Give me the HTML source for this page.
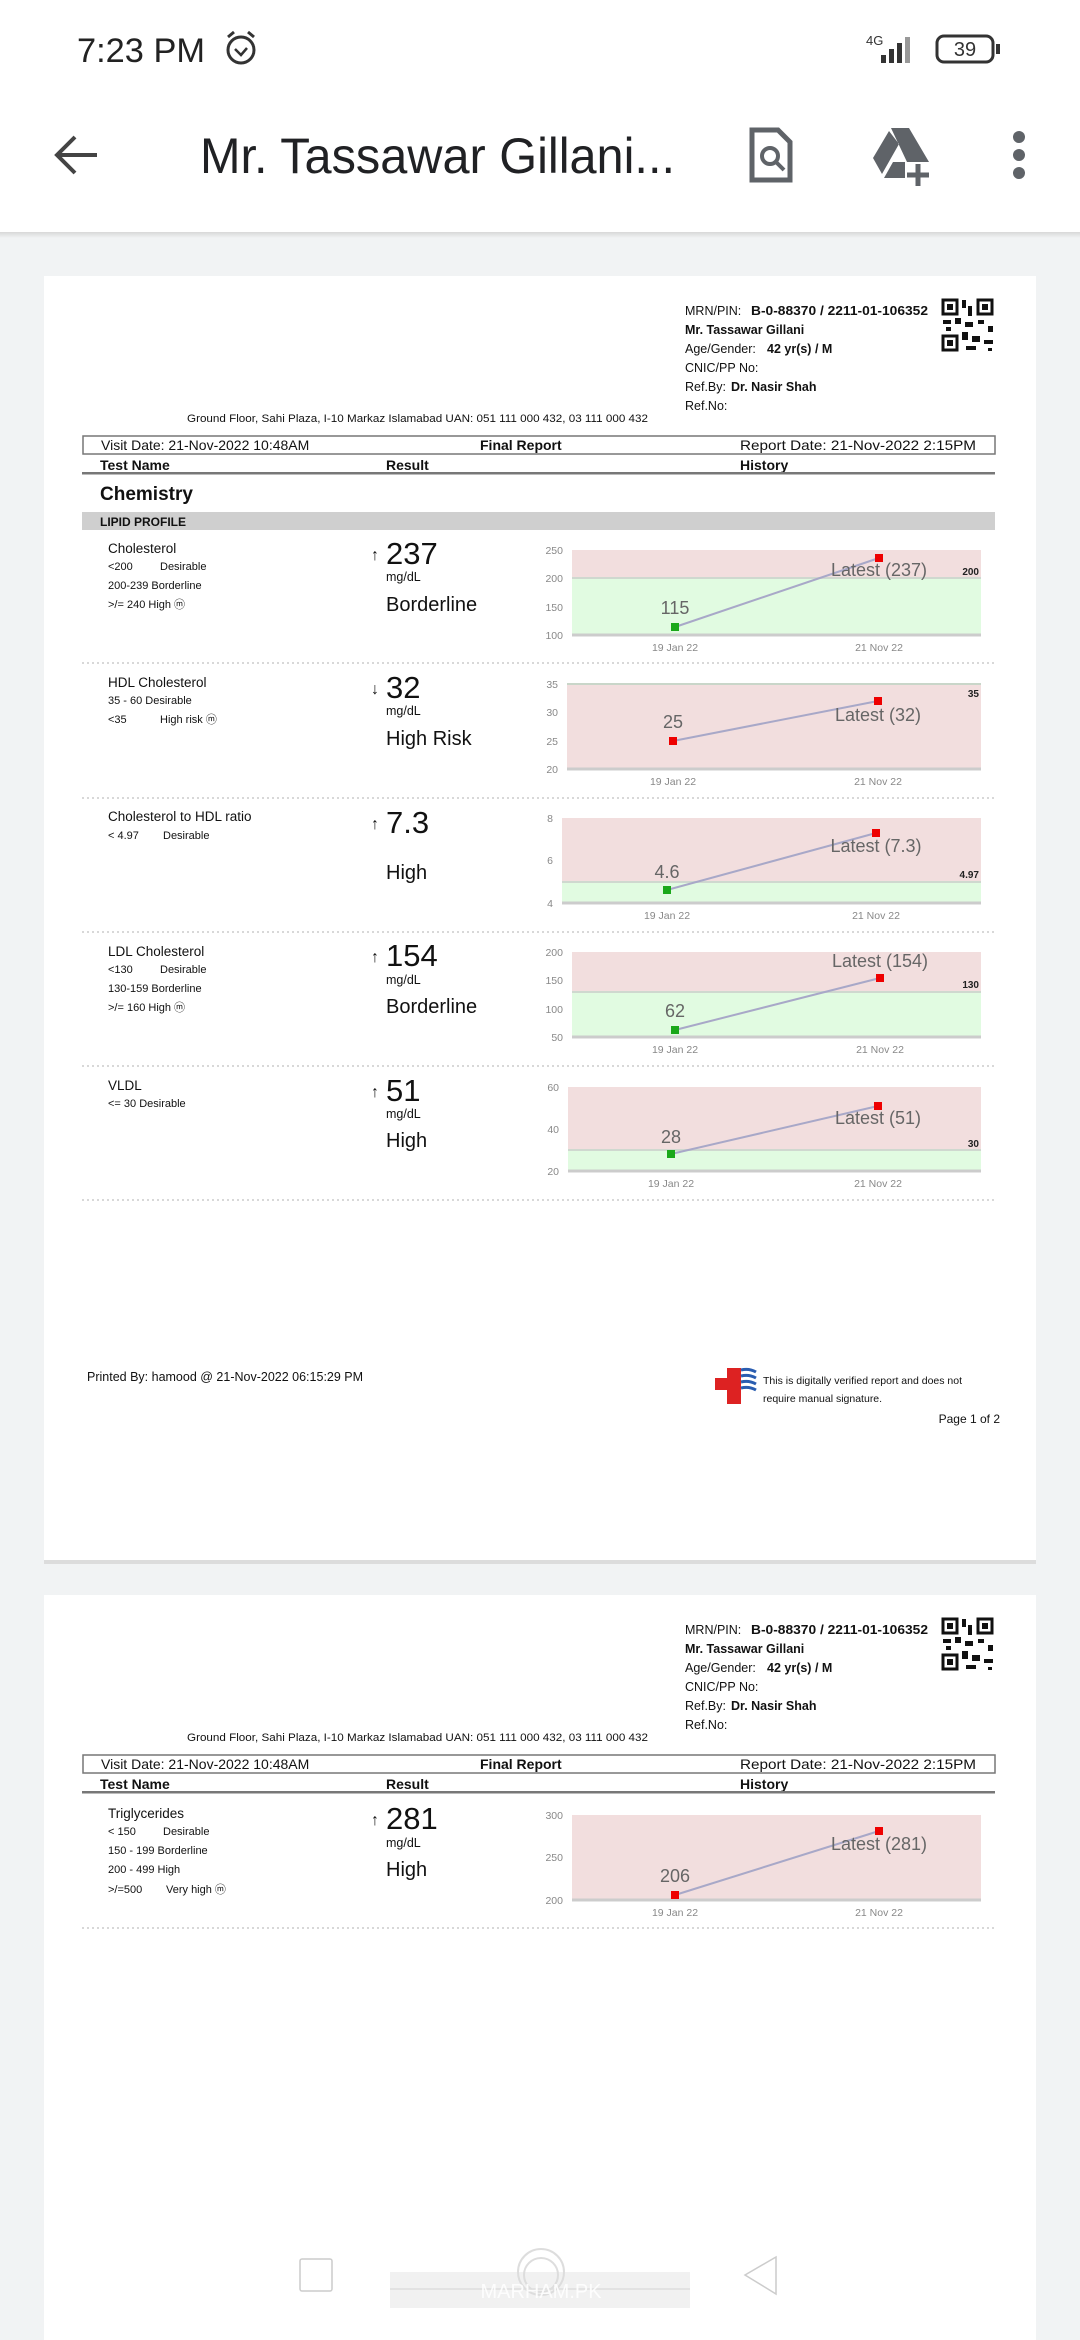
<!DOCTYPE html>
<html><head><meta charset="utf-8"><style>
html,body{margin:0;padding:0;background:#fff;}
svg{display:block;font-family:"Liberation Sans",sans-serif;}
</style></head><body>
<svg width="1080" height="2340" viewBox="0 0 1080 2340" xmlns="http://www.w3.org/2000/svg">
<defs>
<linearGradient id="sh" x1="0" y1="0" x2="0" y2="1"><stop offset="0" stop-color="#d8d8d8"/><stop offset="1" stop-color="#f1f3f4"/></linearGradient>
</defs>
<rect width="1080" height="2340" fill="#f1f3f4"/>
<rect width="1080" height="232" fill="#fff"/>
<rect y="232" width="1080" height="6" fill="url(#sh)"/>
<text x="77" y="62" font-size="34" fill="#222" textLength="128" lengthAdjust="spacingAndGlyphs">7:23 PM</text>
<circle cx="241" cy="50" r="13" fill="none" stroke="#333" stroke-width="3"/>
<path d="M235 49 l6 6 l6 -7" fill="none" stroke="#333" stroke-width="2.5"/>
<path d="M228 37 l6 -5 M254 37 l-6 -5" stroke="#333" stroke-width="3"/>
<text x="866" y="45" font-size="13" fill="#333">4G</text>
<rect x="881" y="55" width="5" height="8" fill="#333"/><rect x="889" y="49" width="5" height="14" fill="#333"/><rect x="897" y="43" width="5" height="20" fill="#333"/><rect x="905" y="37" width="5" height="26" fill="#999"/>
<rect x="937" y="36" width="56" height="26" rx="7" fill="none" stroke="#333" stroke-width="3"/>
<rect x="996" y="44" width="4" height="10" fill="#333"/>
<text x="965" y="56" font-size="20" fill="#333" text-anchor="middle">39</text>
<path d="M97 155 H58 M75 137 L57 155 L75 173" fill="none" stroke="#444" stroke-width="4"/>
<text x="200" y="173" font-size="50" fill="#202124" textLength="475" lengthAdjust="spacingAndGlyphs">Mr. Tassawar Gillani...</text>
<path d="M752 130 h26 l12 12 v38 h-38 z" fill="none" stroke="#5f6368" stroke-width="5"/>
<circle cx="770" cy="156" r="8" fill="none" stroke="#5f6368" stroke-width="4"/><path d="M776 162 l8 8" stroke="#5f6368" stroke-width="4"/>
<path d="M891 128 h18 l20 34 h-22 z M889 131 l-16 27 l9 16 l17 -30 z M884 178 l9 -16 h12 v16 z" fill="#5f6368"/>
<path d="M918 164 v22 M907 175 h22" stroke="#5f6368" stroke-width="5"/>
<circle cx="1019" cy="137" r="6" fill="#5f6368"/><circle cx="1019" cy="155" r="6" fill="#5f6368"/><circle cx="1019" cy="173" r="6" fill="#5f6368"/>

<!-- page 1 -->
<rect x="44" y="276" width="992" height="1284" fill="#fff"/>
<rect x="44" y="1560" width="992" height="4" fill="#dcdcdc"/>
<g font-size="12.5" fill="#111">
<text x="685" y="315">MRN/PIN:</text><text x="751" y="315" font-weight="bold" textLength="177" lengthAdjust="spacingAndGlyphs">B-0-88370 / 2211-01-106352</text>
<text x="685" y="334" font-weight="bold">Mr. Tassawar Gillani</text>
<text x="685" y="353">Age/Gender:</text><text x="767" y="353" font-weight="bold">42 yr(s) / M</text>
<text x="685" y="372">CNIC/PP No:</text>
<text x="685" y="391">Ref.By:</text><text x="731" y="391" font-weight="bold">Dr. Nasir Shah</text>
<text x="685" y="410">Ref.No:</text>
<text x="187" y="422" font-size="11" textLength="461" lengthAdjust="spacingAndGlyphs">Ground Floor, Sahi Plaza, I-10 Markaz Islamabad  UAN: 051 111 000 432, 03 111 000 432</text>
</g>
<g fill="#111">
<path d="M943 300h14v14h-14z M978 300h14v14h-14z M943 336h14v14h-14z" fill="none" stroke="#111" stroke-width="3"/>
<rect x="947" y="304" width="6" height="6"/><rect x="982" y="304" width="6" height="6"/><rect x="947" y="340" width="6" height="6"/>
<rect x="962" y="300" width="4" height="8"/><rect x="968" y="306" width="4" height="10"/><rect x="943" y="320" width="8" height="4"/><rect x="955" y="318" width="6" height="6"/><rect x="965" y="322" width="8" height="5"/><rect x="978" y="320" width="6" height="4"/><rect x="988" y="326" width="5" height="6"/><rect x="962" y="332" width="6" height="8"/><rect x="972" y="336" width="8" height="6"/><rect x="984" y="340" width="9" height="4"/><rect x="966" y="346" width="10" height="4"/><rect x="988" y="348" width="4" height="3"/><rect x="946" y="327" width="5" height="4"/>
</g>
<rect x="83" y="436" width="912" height="18" fill="none" stroke="#777" stroke-width="1.5"/>
<g font-size="14" fill="#111">
<text x="101" y="450">Visit Date: 21-Nov-2022 10:48AM</text>
<text x="480" y="450" font-weight="bold">Final Report</text>
<text x="740" y="450" textLength="236" lengthAdjust="spacingAndGlyphs">Report Date: 21-Nov-2022 2:15PM</text>
<text x="100" y="470" font-weight="bold">Test Name</text>
<text x="386" y="470" font-weight="bold">Result</text>
<text x="740" y="470" font-weight="bold">History</text>
</g>
<rect x="82" y="472" width="913" height="2.5" fill="#777"/>
<text x="100" y="500" font-size="19" font-weight="bold" fill="#111">Chemistry</text>
<rect x="82" y="512" width="913" height="18" fill="#cfcfcf"/>
<text x="100" y="526" font-size="12" font-weight="bold" fill="#111">LIPID PROFILE</text>

<g stroke="#ccc" stroke-width="1.5" stroke-dasharray="2 3">
<line x1="82" y1="663" x2="995" y2="663"/><line x1="82" y1="798" x2="995" y2="798"/><line x1="82" y1="932" x2="995" y2="932"/><line x1="82" y1="1066" x2="995" y2="1066"/><line x1="82" y1="1200" x2="995" y2="1200"/>
</g>

<g fill="#111">
<text x="108" y="553" font-size="13.5">Cholesterol</text>
<text x="108" y="570" font-size="11">&lt;200</text><text x="160" y="570" font-size="11">Desirable</text>
<text x="108" y="589" font-size="11">200-239  Borderline</text>
<text x="108" y="608" font-size="11">&gt;/= 240  High ⓜ</text>
<text x="371" y="560" font-size="16" font-weight="bold">↑</text><text x="386" y="564" font-size="31">237</text>
<text x="386" y="581" font-size="12.5">mg/dL</text>
<text x="386" y="611" font-size="20">Borderline</text>

<text x="108" y="687" font-size="13.5">HDL Cholesterol</text>
<text x="108" y="704" font-size="11">35 - 60  Desirable</text>
<text x="108" y="723" font-size="11">&lt;35</text><text x="160" y="723" font-size="11">High risk ⓜ</text>
<text x="371" y="694" font-size="16" font-weight="bold">↓</text><text x="386" y="698" font-size="31">32</text>
<text x="386" y="715" font-size="12.5">mg/dL</text>
<text x="386" y="745" font-size="20">High Risk</text>

<text x="108" y="821" font-size="13.5">Cholesterol to HDL ratio</text>
<text x="108" y="839" font-size="11">&lt; 4.97</text><text x="163" y="839" font-size="11">Desirable</text>
<text x="371" y="829" font-size="16" font-weight="bold">↑</text><text x="386" y="833" font-size="31">7.3</text>
<text x="386" y="879" font-size="20">High</text>

<text x="108" y="956" font-size="13.5">LDL Cholesterol</text>
<text x="108" y="973" font-size="11">&lt;130</text><text x="160" y="973" font-size="11">Desirable</text>
<text x="108" y="992" font-size="11">130-159  Borderline</text>
<text x="108" y="1011" font-size="11">&gt;/= 160  High ⓜ</text>
<text x="371" y="962" font-size="16" font-weight="bold">↑</text><text x="386" y="966" font-size="31">154</text>
<text x="386" y="984" font-size="12.5">mg/dL</text>
<text x="386" y="1013" font-size="20">Borderline</text>

<text x="108" y="1090" font-size="13.5">VLDL</text>
<text x="108" y="1107" font-size="11">&lt;= 30  Desirable</text>
<text x="371" y="1097" font-size="16" font-weight="bold">↑</text><text x="386" y="1101" font-size="31">51</text>
<text x="386" y="1118" font-size="12.5">mg/dL</text>
<text x="386" y="1147" font-size="20">High</text>
</g>

<g font-size="10.5" fill="#888">
<rect x="572" y="550" width="409" height="28" fill="#f2dede"/><rect x="572" y="578" width="409" height="57" fill="#e1fbe1"/>
<line x1="572" y1="578" x2="981" y2="578" stroke="#cfd8cf" stroke-width="2"/>
<line x1="572" y1="635" x2="981" y2="635" stroke="#ccc" stroke-width="3"/>
<text x="563" y="554" text-anchor="end">250</text><text x="563" y="582" text-anchor="end">200</text><text x="563" y="611" text-anchor="end">150</text><text x="563" y="639" text-anchor="end">100</text>
<text x="675" y="651" text-anchor="middle">19 Jan 22</text><text x="879" y="651" text-anchor="middle">21 Nov 22</text>
<line x1="675" y1="627" x2="879" y2="558" stroke="#a8a8c8" stroke-width="2"/>
<rect x="671" y="623" width="8" height="8" fill="#1aa81a"/><rect x="875" y="554" width="8" height="8" fill="#e00"/>
<text x="675" y="614" font-size="18" fill="#666" text-anchor="middle">115</text>
<text x="879" y="576" font-size="18" fill="#666" text-anchor="middle">Latest (237)</text>
<text x="979" y="575" font-size="10" font-weight="bold" fill="#222" text-anchor="end">200</text>
</g>
<g font-size="10.5" fill="#888">
<rect x="567" y="684" width="414" height="85" fill="#f2dede"/>
<line x1="567" y1="684" x2="981" y2="684" stroke="#c9d6c9" stroke-width="2"/>
<line x1="567" y1="769" x2="981" y2="769" stroke="#ccc" stroke-width="3"/>
<text x="558" y="688" text-anchor="end">35</text><text x="558" y="716" text-anchor="end">30</text><text x="558" y="745" text-anchor="end">25</text><text x="558" y="773" text-anchor="end">20</text>
<text x="673" y="785" text-anchor="middle">19 Jan 22</text><text x="878" y="785" text-anchor="middle">21 Nov 22</text>
<line x1="673" y1="741" x2="878" y2="701" stroke="#a8a8c8" stroke-width="2"/>
<rect x="669" y="737" width="8" height="8" fill="#e00"/><rect x="874" y="697" width="8" height="8" fill="#e00"/>
<text x="673" y="728" font-size="18" fill="#666" text-anchor="middle">25</text>
<text x="878" y="721" font-size="18" fill="#666" text-anchor="middle">Latest (32)</text>
<text x="979" y="697" font-size="10" font-weight="bold" fill="#222" text-anchor="end">35</text>
</g>
<g font-size="10.5" fill="#888">
<rect x="562" y="818" width="419" height="64" fill="#f2dede"/><rect x="562" y="882" width="419" height="21" fill="#e1fbe1"/>
<line x1="562" y1="882" x2="981" y2="882" stroke="#cfd8cf" stroke-width="2"/>
<line x1="562" y1="903" x2="981" y2="903" stroke="#ccc" stroke-width="3"/>
<text x="553" y="822" text-anchor="end">8</text><text x="553" y="864" text-anchor="end">6</text><text x="553" y="907" text-anchor="end">4</text>
<text x="667" y="919" text-anchor="middle">19 Jan 22</text><text x="876" y="919" text-anchor="middle">21 Nov 22</text>
<line x1="667" y1="890" x2="876" y2="833" stroke="#a8a8c8" stroke-width="2"/>
<rect x="663" y="886" width="8" height="8" fill="#1aa81a"/><rect x="872" y="829" width="8" height="8" fill="#e00"/>
<text x="667" y="878" font-size="18" fill="#666" text-anchor="middle">4.6</text>
<text x="876" y="852" font-size="18" fill="#666" text-anchor="middle">Latest (7.3)</text>
<text x="979" y="878" font-size="10" font-weight="bold" fill="#222" text-anchor="end">4.97</text>
</g>
<g font-size="10.5" fill="#888">
<rect x="572" y="952" width="409" height="40" fill="#f2dede"/><rect x="572" y="992" width="409" height="45" fill="#e1fbe1"/>
<line x1="572" y1="992" x2="981" y2="992" stroke="#cfd8cf" stroke-width="2"/>
<line x1="572" y1="1037" x2="981" y2="1037" stroke="#ccc" stroke-width="3"/>
<text x="563" y="956" text-anchor="end">200</text><text x="563" y="984" text-anchor="end">150</text><text x="563" y="1013" text-anchor="end">100</text><text x="563" y="1041" text-anchor="end">50</text>
<text x="675" y="1053" text-anchor="middle">19 Jan 22</text><text x="880" y="1053" text-anchor="middle">21 Nov 22</text>
<line x1="675" y1="1030" x2="880" y2="978" stroke="#a8a8c8" stroke-width="2"/>
<rect x="671" y="1026" width="8" height="8" fill="#1aa81a"/><rect x="876" y="974" width="8" height="8" fill="#e00"/>
<text x="675" y="1017" font-size="18" fill="#666" text-anchor="middle">62</text>
<text x="880" y="967" font-size="18" fill="#666" text-anchor="middle">Latest (154)</text>
<text x="979" y="988" font-size="10" font-weight="bold" fill="#222" text-anchor="end">130</text>
</g>
<g font-size="10.5" fill="#888">
<rect x="568" y="1087" width="413" height="63" fill="#f2dede"/><rect x="568" y="1150" width="413" height="21" fill="#e1fbe1"/>
<line x1="568" y1="1150" x2="981" y2="1150" stroke="#cfd8cf" stroke-width="2"/>
<line x1="568" y1="1171" x2="981" y2="1171" stroke="#ccc" stroke-width="3"/>
<text x="559" y="1091" text-anchor="end">60</text><text x="559" y="1133" text-anchor="end">40</text><text x="559" y="1175" text-anchor="end">20</text>
<text x="671" y="1187" text-anchor="middle">19 Jan 22</text><text x="878" y="1187" text-anchor="middle">21 Nov 22</text>
<line x1="671" y1="1154" x2="878" y2="1106" stroke="#a8a8c8" stroke-width="2"/>
<rect x="667" y="1150" width="8" height="8" fill="#1aa81a"/><rect x="874" y="1102" width="8" height="8" fill="#e00"/>
<text x="671" y="1143" font-size="18" fill="#666" text-anchor="middle">28</text>
<text x="878" y="1124" font-size="18" fill="#666" text-anchor="middle">Latest (51)</text>
<text x="979" y="1147" font-size="10" font-weight="bold" fill="#222" text-anchor="end">30</text>
</g>

<text x="87" y="1381" font-size="12.5" fill="#111">Printed By: hamood @ 21-Nov-2022 06:15:29 PM</text>
<rect x="715" y="1378" width="26" height="12" fill="#d22"/><rect x="727" y="1368" width="14" height="36" fill="#d22"/>
<path d="M741 1370 q8 -2 15 2 M741 1376 q8 -2 15 2 M741 1382 q8 -2 15 2 M741 1388 q8 -2 15 2" stroke="#2a5db0" stroke-width="3" fill="none"/>
<text x="763" y="1384" font-size="10.5" fill="#111">This is digitally verified report and does not</text>
<text x="763" y="1402" font-size="10.5" fill="#111">require manual signature.</text>
<text x="1000" y="1423" font-size="12" fill="#111" text-anchor="end">Page 1 of 2</text>

<!-- page 2 -->
<rect x="44" y="1595" width="992" height="745" fill="#fff"/>
<g font-size="12.5" fill="#111">
<text x="685" y="1634">MRN/PIN:</text><text x="751" y="1634" font-weight="bold" textLength="177" lengthAdjust="spacingAndGlyphs">B-0-88370 / 2211-01-106352</text>
<text x="685" y="1653" font-weight="bold">Mr. Tassawar Gillani</text>
<text x="685" y="1672">Age/Gender:</text><text x="767" y="1672" font-weight="bold">42 yr(s) / M</text>
<text x="685" y="1691">CNIC/PP No:</text>
<text x="685" y="1710">Ref.By:</text><text x="731" y="1710" font-weight="bold">Dr. Nasir Shah</text>
<text x="685" y="1729">Ref.No:</text>
<text x="187" y="1741" font-size="11" textLength="461" lengthAdjust="spacingAndGlyphs">Ground Floor, Sahi Plaza, I-10 Markaz Islamabad  UAN: 051 111 000 432, 03 111 000 432</text>
</g>
<g fill="#111" transform="translate(0,1319)">
<path d="M943 300h14v14h-14z M978 300h14v14h-14z M943 336h14v14h-14z" fill="none" stroke="#111" stroke-width="3"/>
<rect x="947" y="304" width="6" height="6"/><rect x="982" y="304" width="6" height="6"/><rect x="947" y="340" width="6" height="6"/>
<rect x="962" y="300" width="4" height="8"/><rect x="968" y="306" width="4" height="10"/><rect x="943" y="320" width="8" height="4"/><rect x="955" y="318" width="6" height="6"/><rect x="965" y="322" width="8" height="5"/><rect x="978" y="320" width="6" height="4"/><rect x="988" y="326" width="5" height="6"/><rect x="962" y="332" width="6" height="8"/><rect x="972" y="336" width="8" height="6"/><rect x="984" y="340" width="9" height="4"/><rect x="966" y="346" width="10" height="4"/><rect x="988" y="348" width="4" height="3"/><rect x="946" y="327" width="5" height="4"/>
</g>
<rect x="83" y="1755" width="912" height="18" fill="none" stroke="#777" stroke-width="1.5"/>
<g font-size="14" fill="#111">
<text x="101" y="1769">Visit Date: 21-Nov-2022 10:48AM</text>
<text x="480" y="1769" font-weight="bold">Final Report</text>
<text x="740" y="1769" textLength="236" lengthAdjust="spacingAndGlyphs">Report Date: 21-Nov-2022 2:15PM</text>
<text x="100" y="1789" font-weight="bold">Test Name</text>
<text x="386" y="1789" font-weight="bold">Result</text>
<text x="740" y="1789" font-weight="bold">History</text>
</g>
<rect x="82" y="1791" width="913" height="2.5" fill="#777"/>
<g fill="#111">
<text x="108" y="1818" font-size="13.5">Triglycerides</text>
<text x="108" y="1835" font-size="11">&lt; 150</text><text x="163" y="1835" font-size="11">Desirable</text>
<text x="108" y="1854" font-size="11">150 - 199 Borderline</text>
<text x="108" y="1873" font-size="11">200 - 499 High</text>
<text x="108" y="1893" font-size="11">&gt;/=500</text><text x="166" y="1893" font-size="11">Very high ⓜ</text>
<text x="371" y="1825" font-size="16" font-weight="bold">↑</text><text x="386" y="1829" font-size="31">281</text>
<text x="386" y="1847" font-size="12.5">mg/dL</text>
<text x="386" y="1876" font-size="20">High</text>
</g>
<g font-size="10.5" fill="#888">
<rect x="572" y="1815" width="409" height="85" fill="#f2dede"/>
<line x1="572" y1="1900" x2="981" y2="1900" stroke="#ccc" stroke-width="3"/>
<text x="563" y="1819" text-anchor="end">300</text><text x="563" y="1861" text-anchor="end">250</text><text x="563" y="1904" text-anchor="end">200</text>
<text x="675" y="1916" text-anchor="middle">19 Jan 22</text><text x="879" y="1916" text-anchor="middle">21 Nov 22</text>
<line x1="675" y1="1895" x2="879" y2="1831" stroke="#a8a8c8" stroke-width="2"/>
<rect x="671" y="1891" width="8" height="8" fill="#e00"/><rect x="875" y="1827" width="8" height="8" fill="#e00"/>
<text x="675" y="1882" font-size="18" fill="#666" text-anchor="middle">206</text>
<text x="879" y="1850" font-size="18" fill="#666" text-anchor="middle">Latest (281)</text>
</g>
<line x1="82" y1="1928" x2="995" y2="1928" stroke="#ccc" stroke-width="1.5" stroke-dasharray="2 3"/>

<!-- nav bar overlay -->
<rect x="390" y="2272" width="300" height="36" fill="#eee" opacity="0.8"/>
<line x1="390" y1="2289" x2="690" y2="2289" stroke="#ddd" stroke-width="1.5"/>
<rect x="300" y="2259" width="32" height="32" fill="none" stroke="#ccc" stroke-width="1.5" rx="2"/>
<circle cx="541" cy="2272" r="23" fill="none" stroke="#ddd" stroke-width="2"/>
<circle cx="541" cy="2275" r="17" fill="none" stroke="#ddd" stroke-width="2"/>
<path d="M776 2257 L745 2275 L776 2294 Z" fill="none" stroke="#ccc" stroke-width="1.5"/>
<text x="541" y="2298" font-size="20" fill="#fff" text-anchor="middle" opacity="0.9">MARHAM.PK</text>
</svg>
</body></html>
